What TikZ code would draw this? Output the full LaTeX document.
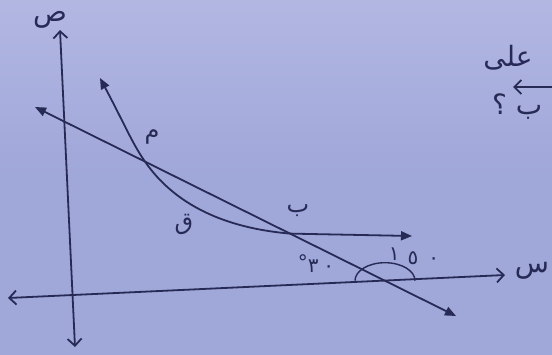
\documentclass[tikz,border=0pt]{standalone}
\usepackage{fontspec}
\newfontfamily\arabicfont[Script=Arabic]{DejaVu Sans}
\TeXXeTstate=1
\usetikzlibrary{arrows.meta}
\definecolor{paper}{HTML}{A0A7D9}
\definecolor{paperlight}{HTML}{B2B7E2}
\definecolor{ink}{HTML}{262A55}
\tikzset{
  axis/.style={ink,line width=1.8pt,{Straight Barb[length=7pt,width=14pt]}-{Straight Barb[length=7pt,width=14pt]}},
  ray/.style={ink,line width=1.8pt,-{Triangle[length=11pt,width=9pt]}},
  lbl/.style={ink,font=\arabicfont\fontsize{24}{26}\selectfont,inner sep=0pt}
}
\begin{document}
\begin{tikzpicture}[x=1pt,y=-1pt]
    \fill[top color=paperlight,bottom color=paper,middle color=paper] (0,0) rectangle (552,354);
    \useasboundingbox (0,0) rectangle (552,354);
    % axes
    \coordinate (ybot) at (75,347);
    \coordinate (ytop) at (60,30);
    \coordinate (xleft) at (8,298);
    \coordinate (xright) at (505,275);
    \draw[axis] (ybot) -- (ytop);
    \draw[axis] (xleft) -- (xright);
    \node[lbl,font=\arabicfont\fontsize{28}{30}\selectfont] (ysym) at (50,20) {ص};
    \node[lbl,font=\arabicfont\fontsize{28}{30}\selectfont] (xsym) at (532,271) {س};
    % the line through the two points
    \coordinate (lstart) at (35,107);
    \coordinate (lend) at (456,316);
    \coordinate (A) at (145,161.6);
    \coordinate (B) at (290,233.6);
    \coordinate (P) at (385,280.7);
    \draw[ray] (A) -- (lend);
    \draw[ray] (A) -- (lstart);
    % the curve
    \coordinate (ctop) at (100,78);
    \coordinate (cend) at (412,236);
    \draw[ray] (B) .. controls (225,228) and (175,205) .. (A)
        .. controls (132,143) and (125,125) .. (ctop);
    \draw[ray] (B) -- (cend);
    \node[lbl] (Alab) at (152,137) {م};
    \node[lbl] (Blab) at (298,211) {ب};
    \node[lbl] (Clab) at (184,224) {ق};
    % angles
    \draw[ink,line width=1.4pt] ([xshift=-30pt]P) arc[start angle=180,end angle=0,x radius=30pt,y radius=18pt];
    \node[lbl,font=\arabicfont\fontsize{20}{22}\selectfont] (ang30) at (316,264) {\hbox{\raisebox{3pt}{°}}\hbox{٣\hspace{5pt}٠}};
    \node[lbl,font=\arabicfont\fontsize{20}{22}\selectfont] (ang150) at (414,256) {\raisebox{4pt}{١}\hspace{8pt}٥\hspace{10pt}٠};
    % page text cut at the right edge
    \node[lbl,font=\arabicfont\fontsize{28}{30}\selectfont] (onword) at (508,58) {على};
    \coordinate (arrR) at (556,87);
    \coordinate (arrL) at (513,87);
    \draw[ink,line width=1.8pt,-{Straight Barb[length=7pt,width=14pt]}] (arrR) -- (arrL);
    \node[lbl,font=\arabicfont\fontsize{28}{30}\selectfont,anchor=west] (abq) at (492,106) {\beginR ب ؟\endR};
\end{tikzpicture}
\end{document}
